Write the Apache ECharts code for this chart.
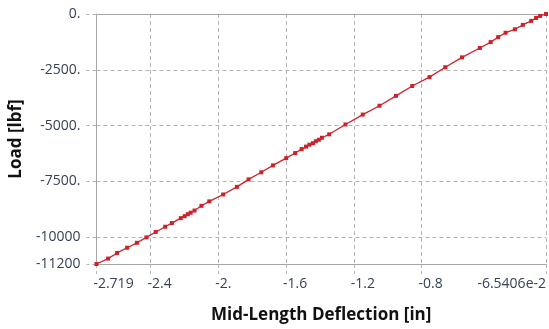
<!DOCTYPE html>
<html>
<head>
<meta charset="utf-8">
<script src="https://cdn.jsdelivr.net/npm/echarts@6/dist/echarts.min.js"></script>
<style>
html, body { margin: 0; padding: 0; background: #fff; }
#chart { width: 549px; height: 329px; }
</style>
</head>
<body>
<div id="chart"></div>
<script>
// mid-length deflection [in] vs load [lbf]
var deflection = [-2.719, -2.650, -2.597, -2.538, -2.480, -2.424, -2.369, -2.313, -2.274, -2.221,
    -2.198, -2.180, -2.163, -2.140, -2.099, -2.053, -1.971, -1.890, -1.821, -1.746,
    -1.677, -1.599, -1.546, -1.508, -1.482, -1.462, -1.441, -1.424, -1.406, -1.388,
    -1.345, -1.249, -1.147, -1.048, -0.951, -0.855, -0.753, -0.660, -0.561, -0.456,
    -0.392, -0.348, -0.304, -0.249, -0.202, -0.153, -0.124, -0.100, -0.065406];
var load = [-11200, -10957, -10705, -10471, -10250, -10007, -9764, -9530, -9366, -9145,
    -9057, -8969, -8902, -8805, -8593, -8394, -8085, -7745, -7409, -7091,
    -6782, -6459, -6229, -6053, -5942, -5854, -5788, -5699, -5633, -5545,
    -5390, -4948, -4506, -4109, -3667, -3225, -2828, -2386, -1944, -1524,
    -1259, -1038, -839, -685, -486, -309, -177, -88, 0];

var xTicks = [-2.719, -2.4, -2, -1.6, -1.2, -0.8, -0.065406];
var xTickLabels = ['-2.719', '-2.4', '-2.', '-1.6', '-1.2', '-0.8', '-6.5406e-2'];
var yTicks = [0, -2500, -5000, -7500, -10000, -11200];
var yTickLabels = ['0.', '-2500.', '-5000.', '-7500.', '-10000', '-11200'];

function pick(ticks, labels, v) {
    var best = 0;
    for (var i = 1; i < ticks.length; i++) {
        if (Math.abs(ticks[i] - v) < Math.abs(ticks[best] - v)) best = i;
    }
    return labels[best];
}

var pts = [];
for (var i = 0; i < deflection.length; i++) pts.push([deflection[i], load[i]]);

var gridColor = '#b4b4b4';
var axisColor = '#a6a6a6';
var labelColor = '#364258';
var font = '"Open Sans", "DejaVu Sans", sans-serif';

var chart = echarts.init(document.getElementById('chart'));
chart.setOption({
    animation: false,
    grid: { left: 94.5, top: 14, right: 0, bottom: 61.5, containLabel: false },
    xAxis: [{
        type: 'value', min: -2.719, max: -0.065406,
        name: 'Mid-Length Deflection [in]', nameLocation: 'middle', nameGap: 43,
        nameTextStyle: { color: '#111', fontSize: 17, fontWeight: 'bold', fontFamily: font },
        axisLine: { show: true, onZero: false, lineStyle: { color: axisColor } },
        axisTick: { show: true, customValues: xTicks, length: 10, lineStyle: { color: gridColor, type: [4, 3] } },
        axisLabel: {
            customValues: xTicks, color: labelColor, fontSize: 14, fontFamily: font,
            margin: 13, align: 'left', padding: [0, 0, 0, -3], alignMaxLabel: 'right',
            formatter: function (v) { return pick(xTicks, xTickLabels, v); }
        },
        splitLine: { show: true, lineStyle: { color: gridColor, type: [4, 3] } }
    }, {
        type: 'value', position: 'top', min: -2.719, max: -0.065406,
        axisLine: { show: true, lineStyle: { color: axisColor } },
        axisTick: { show: false }, axisLabel: { show: false }, splitLine: { show: false }
    }],
    yAxis: {
        type: 'value', min: -11200, max: 0,
        name: 'Load [lbf]', nameLocation: 'middle', nameRotate: 90, nameGap: 64,
        nameTextStyle: { color: '#111', fontSize: 17, fontWeight: 'bold', fontFamily: font },
        axisLine: { show: true, onZero: false, lineStyle: { color: axisColor } },
        axisTick: { show: true, customValues: yTicks, length: 10, lineStyle: { color: gridColor, type: [4, 3] } },
        axisLabel: {
            customValues: yTicks, color: labelColor, fontSize: 14, fontFamily: font, margin: 16,
            formatter: function (v) { return pick(yTicks, yTickLabels, v); }
        },
        splitLine: { show: true, lineStyle: { color: gridColor, type: [4, 3] } }
    },
    series: [{
        type: 'line', data: pts, xAxisIndex: 0,
        symbol: 'rect', symbolSize: 4, showSymbol: true,
        itemStyle: { color: '#cc2229' },
        lineStyle: { color: '#cc2229', width: 1.3 }
    }]
});
</script>
</body>
</html>
